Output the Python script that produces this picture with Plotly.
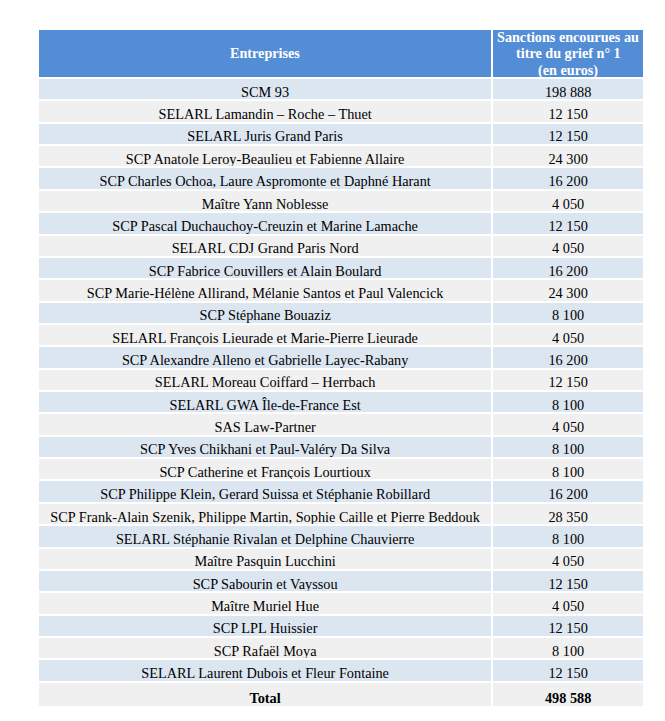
import plotly.graph_objects as go

entreprises = [
    "SCM 93",
    "SELARL Lamandin – Roche – Thuet",
    "SELARL Juris Grand Paris",
    "SCP Anatole Leroy-Beaulieu et Fabienne Allaire",
    "SCP Charles Ochoa, Laure Aspromonte et Daphné Harant",
    "Maître Yann Noblesse",
    "SCP Pascal Duchauchoy-Creuzin et Marine Lamache",
    "SELARL CDJ Grand Paris Nord",
    "SCP Fabrice Couvillers et Alain Boulard",
    "SCP Marie-Hélène Allirand, Mélanie Santos et Paul Valencick",
    "SCP Stéphane Bouaziz",
    "SELARL François Lieurade et Marie-Pierre Lieurade",
    "SCP Alexandre Alleno et Gabrielle Layec-Rabany",
    "SELARL Moreau Coiffard – Herrbach",
    "SELARL GWA Île-de-France Est",
    "SAS Law-Partner",
    "SCP Yves Chikhani et Paul-Valéry Da Silva",
    "SCP Catherine et François Lourtioux",
    "SCP Philippe Klein, Gerard Suissa et Stéphanie Robillard",
    "SCP Frank-Alain Szenik, Philippe Martin, Sophie Caille et Pierre Beddouk",
    "SELARL Stéphanie Rivalan et Delphine Chauvierre",
    "Maître Pasquin Lucchini",
    "SCP Sabourin et Vayssou",
    "Maître Muriel Hue",
    "SCP LPL Huissier",
    "SCP Rafaël Moya",
    "SELARL Laurent Dubois et Fleur Fontaine",
]
sanctions = [198888, 12150, 12150, 24300, 16200, 4050, 12150, 4050, 16200, 24300,
             8100, 4050, 16200, 12150, 8100, 4050, 8100, 8100, 16200, 28350,
             8100, 4050, 12150, 4050, 12150, 8100, 12150]
total_label = "Total"
total_value = 498588

header_col1 = ["Entreprises"]
header_col2 = ["Sanctions encourues au", "titre du grief n° 1", "(en euros)"]


def fmt(v):
    return f"{v:,}".replace(",", " ")


col1 = entreprises + [f"<b>{total_label}</b>"]
col2 = [fmt(v) for v in sanctions] + [f"<b>{fmt(total_value)}</b>"]

blue = "#DCE6F1"
grey = "#F0F0F0"
fills = [blue if i % 2 == 0 else grey for i in range(len(col1))]

W, H = 657, 713
L, R, T, B = 30, 21, 21, 15
HEADER_H = 49
LINE_GAP = 16.7

fig = go.Figure(go.Table(
    columnwidth=[455, 152],
    header=dict(
        values=["", ""],
        fill_color="#538DD5",
        line=dict(color="white", width=2),
        font=dict(family="Liberation Serif", size=14, color="white"),
        align="center",
        height=HEADER_H,
    ),
    cells=dict(
        values=[col1, col2],
        fill_color=[fills, fills],
        line=dict(color="white", width=2),
        font=dict(family="Liberation Serif", size=14.3, color="black"),
        align="center",
        height=22.36,
    ),
))

plot_h = H - T - B
x1 = (455 / 2) / 607
x2 = (455 + 152 / 2) / 607
centre_px = HEADER_H / 2


def add_header_lines(xc, lines):
    n = len(lines)
    for i, line in enumerate(lines):
        off = (i - (n - 1) / 2) * LINE_GAP
        y = 1 - (centre_px + off) / plot_h
        fig.add_annotation(
            x=xc, y=y, xref="paper", yref="paper",
            text=f"<b>{line}</b>", showarrow=False,
            xanchor="center", yanchor="middle",
            font=dict(family="Liberation Serif", size=14.2, color="white"),
        )


add_header_lines(x1, header_col1)
add_header_lines(x2, header_col2)

fig.update_layout(
    width=W, height=H,
    margin=dict(l=L, r=R, t=T, b=B),
    paper_bgcolor="white",
)

fig.write_html("out.html")
